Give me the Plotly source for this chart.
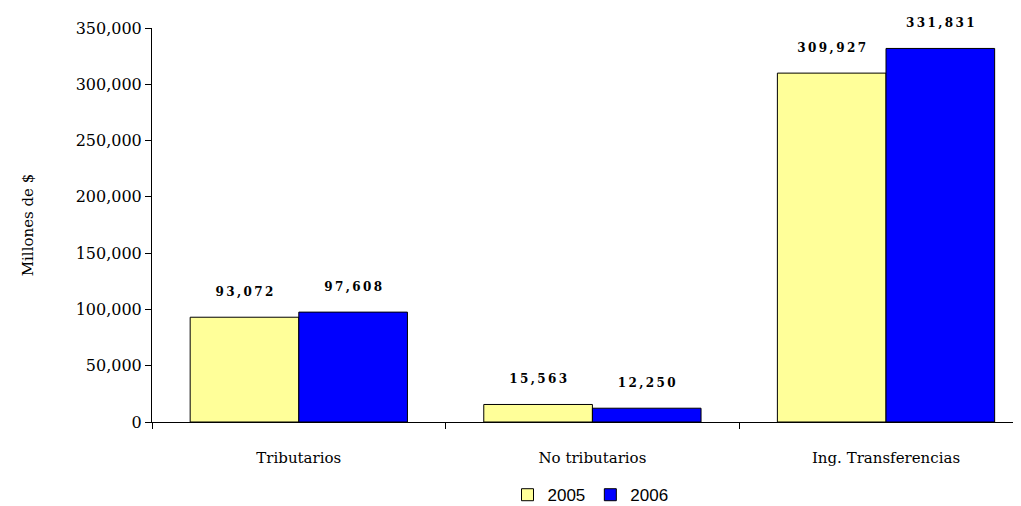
import plotly.graph_objects as go

categories = ["Tributarios", "No tributarios", "Ing. Transferencias"]
v2005 = [93072, 15563, 309927]
v2006 = [97608, 12250, 331831]
tickvals = [0, 50000, 100000, 150000, 200000, 250000, 300000, 350000]

def spaced(v):
    return "\u2009".join(f"{v:,}")

fig = go.Figure()
for name, vals, col in [("2005", v2005, "#FFFF99"), ("2006", v2006, "#0000FF")]:
    fig.add_trace(go.Bar(
        name=name, x=categories, y=vals,
        marker=dict(color=col, line=dict(color="black", width=1)),
        text=[spaced(v) + "<br> " for v in vals], textposition="outside",
        texttemplate="<b>%{text}</b>", cliponaxis=False,
        textfont=dict(family="DejaVu Serif", size=12, color="black"),
    ))

fig.update_layout(
    width=1021, height=506,
    margin=dict(l=144, r=0, t=20, b=92),
    plot_bgcolor="white", paper_bgcolor="white",
    barmode="group", bargap=0.26, bargroupgap=0,
    font=dict(family="DejaVu Serif", size=15, color="black"),
    showlegend=True,
    legend=dict(orientation="h", x=0.5, xanchor="center", y=-0.14, yanchor="top",
                font=dict(family="Liberation Sans", size=17), traceorder="normal"),
    xaxis=dict(range=[-0.5, 2.487], showline=True, linecolor="black",
               ticks="outside", tickson="boundaries", ticklen=6, tickcolor="black",
               tickfont=dict(size=15), ticklabelstandoff=22),
    yaxis=dict(range=[0, 350000], tickvals=tickvals, tickformat=",", showline=True,
               linecolor="black", ticks="outside", ticklen=6, tickcolor="black",
               showgrid=False, zeroline=False, tickfont=dict(size=16),
               title=dict(text="Millones de $", font=dict(size=15), standoff=38)),
)
fig.write_html("out.html")
